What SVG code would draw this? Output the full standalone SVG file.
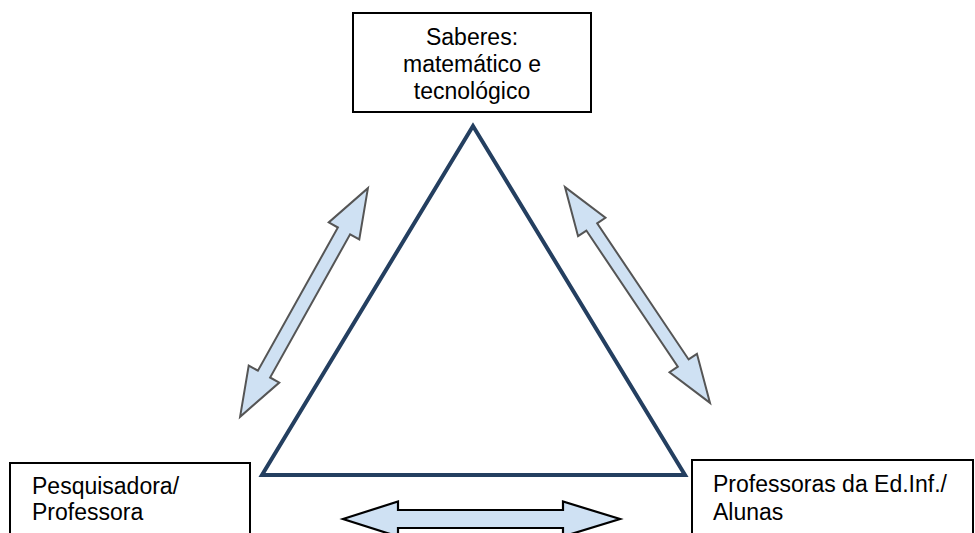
<svg xmlns="http://www.w3.org/2000/svg" width="975" height="533" viewBox="0 0 975 533">
<style>
.box{fill:#fff;stroke:#000;stroke-width:2}
.lbl{font-family:"Liberation Sans",Arial,sans-serif;font-size:23px;fill:#000}
.tri{fill:none;stroke:#243F60;stroke-width:4;stroke-linejoin:miter}
.darr{fill:#CFE1F3;stroke:#555;stroke-width:2;stroke-linejoin:miter}
.harr{fill:#CFE1F3;stroke:#000;stroke-width:2.2;stroke-linejoin:miter}
</style>
<rect width="975" height="533" fill="#fff"/>
<g id="connectors">
<polygon class="tri" points="473,126 262,475 685,475"/>
<g transform="translate(304,302.5) rotate(-60.8)">
<polygon class="darr" points="-131,0 -82,-17.5 -82,-7 82,-7 82,-17.5 131,0 82,17.5 82,7 -82,7 -82,17.5"/>
</g>
<g transform="translate(637.5,295) rotate(56.1)">
<polygon class="darr" points="-130,0 -82,-16.5 -82,-6.5 82,-6.5 82,-16.5 130,0 82,16.5 82,6.5 -82,6.5 -82,16.5"/>
</g>
<polygon class="harr" points="343,519 398,501.5 398,510 563,510 563,501.5 620,519 563,536.5 563,528 398,528 398,536.5"/>
</g>
<g id="node-saberes">
<rect class="box" x="353" y="13" width="238" height="99"/>
<text class="lbl" x="472" y="45" text-anchor="middle">Saberes:</text>
<text class="lbl" x="472" y="72" text-anchor="middle">matemático e</text>
<text class="lbl" x="472" y="99" text-anchor="middle">tecnológico</text>
</g>
<g id="node-pesquisadora">
<rect class="box" x="10" y="463" width="240" height="80"/>
<text class="lbl" x="32" y="494">Pesquisadora/</text>
<text class="lbl" x="32" y="520">Professora</text>
</g>
<g id="node-professoras">
<rect class="box" x="692" y="460" width="281" height="83"/>
<text class="lbl" x="713" y="492">Professoras da Ed.Inf./</text>
<text class="lbl" x="713" y="520">Alunas</text>
</g>
</svg>
